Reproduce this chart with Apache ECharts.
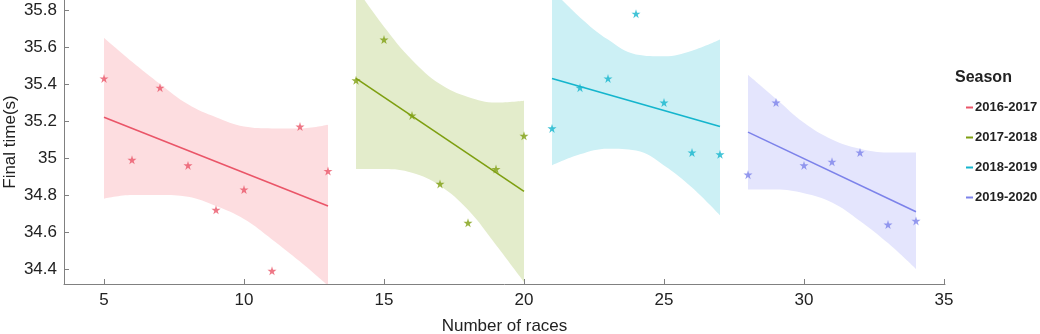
<!DOCTYPE html>
<html>
<head>
<meta charset="utf-8">
<script src="https://cdn.jsdelivr.net/npm/echarts@6/dist/echarts.min.js"></script>
<style>
  html, body { margin: 0; padding: 0; background: #fff; }
</style>
</head>
<body>
<div id="myChart" style="width: 1040px; height: 334px;"></div>
<script>
  // seasons
  const seasons = ['2016-2017', '2017-2018', '2018-2019', '2019-2020'];

  // 2016-2017
  const races1 = [5, 6, 7, 8, 9, 10, 11, 12, 13];
  const times1 = [35.43, 34.99, 35.38, 34.96, 34.72, 34.83, 34.39, 35.17, 34.93];
  const fit1 = [35.22, 34.74];
  const upper1 = [35.65, 35.52, 35.40, 35.29, 35.22, 35.17, 35.16, 35.16, 35.18];
  const lower1 = [34.78, 34.80, 34.80, 34.79, 34.74, 34.67, 34.56, 34.44, 34.31];

  // 2017-2018
  const races2 = [14, 15, 16, 17, 18, 19, 20];
  const times2 = [35.42, 35.64, 35.23, 34.86, 34.65, 34.94, 35.12];
  const fit2 = [35.43, 34.82];
  const upper2 = [35.92, 35.71, 35.53, 35.40, 35.33, 35.30, 35.31];
  const lower2 = [34.94, 34.94, 34.92, 34.85, 34.72, 34.53, 34.33];

  // 2018-2019
  const races3 = [21, 22, 23, 24, 25, 26, 27];
  const times3 = [35.16, 35.38, 35.43, 35.78, 35.30, 35.03, 35.02];
  const fit3 = [35.43, 35.17];
  const upper3 = [35.91, 35.76, 35.64, 35.56, 35.55, 35.58, 35.64];
  const lower3 = [34.96, 35.02, 35.05, 35.04, 34.96, 34.84, 34.69];

  // 2019-2020
  const races4 = [28, 29, 30, 31, 32, 33, 34];
  const times4 = [34.91, 35.30, 34.96, 34.98, 35.03, 34.64, 34.66];
  const fit4 = [35.14, 34.71];
  const upper4 = [35.45, 35.32, 35.19, 35.10, 35.05, 35.03, 35.03];
  const lower4 = [34.83, 34.83, 34.81, 34.76, 34.66, 34.54, 34.40];

  // axis ticks
  const xTicks = [5, 10, 15, 20, 25, 30, 35];
  const yTicks = [34.4, 34.6, 34.8, 35, 35.2, 35.4, 35.6, 35.8];

  const lineColors = ['#EA5568', '#7E9F10', '#14B5CD', '#7C82EA'];
  const bandColors = ['#FDDDE0', '#E3ECCB', '#CCF0F5', '#E4E5FD'];

  const groups = [
    [races1, times1, fit1, upper1, lower1],
    [races2, times2, fit2, upper2, lower2],
    [races3, times3, fit3, upper3, lower3],
    [races4, times4, fit4, upper4, lower4]
  ];

  const star = 'path://M50,0 L61,35 L98,35 L68,57 L79,91 L50,70 L21,91 L32,57 L2,35 L39,35 Z';

  const series = [];
  groups.forEach(function (g, i) {
    const races = g[0];
    const pair = (ys) => races.map((x, k) => [x, ys[k]]);
    const last = races.length - 1;
    // upper edge of band, filled down to the axis
    series.push({
      type: 'line', smooth: 0.4, showSymbol: false, silent: true, z: 1,
      lineStyle: { width: 0 },
      areaStyle: { color: bandColors[i], opacity: 1, origin: 'start' },
      data: pair(g[3])
    });
    // lower edge of band, white fill below it
    series.push({
      type: 'line', smooth: 0.4, showSymbol: false, silent: true, z: 2,
      lineStyle: { width: 0 },
      areaStyle: { color: '#ffffff', opacity: 1, origin: 'start' },
      data: pair(g[4])
    });
    // regression line
    series.push({
      name: seasons[i], type: 'line', showSymbol: false, z: 3,
      itemStyle: { color: lineColors[i] },
      lineStyle: { color: lineColors[i], width: 1.6 },
      data: [[races[0], g[2][0]], [races[last], g[2][1]]]
    });
    // points
    series.push({
      type: 'scatter', symbol: star, symbolSize: 9, z: 4,
      itemStyle: { color: lineColors[i] },
      data: pair(g[1])
    });
  });

  const myChart = echarts.init(document.getElementById('myChart'));
  myChart.setOption({
    animation: false,
    backgroundColor: '#fff',
    title: {
      text: 'Season',
      left: 950, top: 65,
      textStyle: { fontFamily: 'Liberation Sans', fontSize: 16, fontWeight: 'bold', color: '#222' }
    },
    legend: {
      data: seasons,
      orient: 'vertical',
      left: 961, top: 96,
      icon: 'rect',
      itemWidth: 7, itemHeight: 2,
      itemGap: 17,
      textStyle: { fontFamily: 'Liberation Sans', fontSize: 13, fontWeight: 'bold', color: '#222', padding: [0, 0, 0, -3] }
    },
    grid: { left: 64, right: 95, top: 0, bottom: 50, outerBoundsMode: 'none', containLabel: false },
    xAxis: {
      type: 'value', min: 3.5714286, max: 35.0357143, z: 5,
      name: 'Number of races', nameLocation: 'middle', nameGap: 34, nameMoveOverlap: false,
      nameTextStyle: { fontFamily: 'Liberation Sans', fontSize: 17, color: '#222' },
      splitLine: { show: false },
      axisLine: { lineStyle: { color: '#808080', width: 1 } },
      axisTick: { inside: true, length: 5, lineStyle: { color: '#808080' }, customValues: xTicks },
      axisLabel: { fontFamily: 'Liberation Sans', fontSize: 17, color: '#222', margin: 8, customValues: xTicks }
    },
    yAxis: {
      type: 'value', min: 34.319, max: 35.854, z: 5,
      name: 'Final time(s)', nameLocation: 'middle', nameGap: 45, nameMoveOverlap: false,
      nameTextStyle: { fontFamily: 'Liberation Sans', fontSize: 17, color: '#222' },
      splitLine: { show: false },
      axisLine: { show: true, lineStyle: { color: '#808080', width: 1 } },
      axisTick: { show: true, inside: true, length: 5, lineStyle: { color: '#808080' }, customValues: yTicks },
      axisLabel: { fontFamily: 'Liberation Sans', fontSize: 17, color: '#222', margin: 7, customValues: yTicks }
    },
    series: series
  });
</script>
</body>
</html>
